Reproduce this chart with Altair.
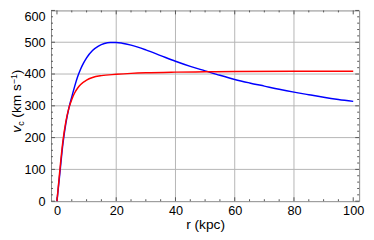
import altair as alt
import pandas as pd

# ---- data ----
r_blue = [0, 1, 2, 3, 4, 5, 6, 7, 8, 9, 10, 12, 14, 16, 18, 20, 22, 25, 30, 35, 40, 45, 50, 55, 60, 65, 70, 75, 80, 85, 90, 95, 100]
v_blue = [0, 90, 180, 245, 292, 328, 362, 392, 416, 435, 451, 474, 488, 496, 499, 499, 497, 491, 476, 458, 440, 424, 410, 396, 383, 372, 362, 352, 343, 335, 327, 320, 314]

r_red = [0, 1, 2, 3, 4, 5, 6, 7, 8, 10, 12, 15, 20, 25, 30, 40, 50, 60, 80, 100]
v_red = [0, 100, 188, 250, 292, 320, 341, 356, 367, 381, 389, 395, 399, 402, 404, 406, 407, 408, 409, 409]

x_major = [0, 20, 40, 60, 80, 100]
x_minor = [5, 10, 15, 25, 30, 35, 45, 50, 55, 65, 70, 75, 85, 90, 95]
y_major = [0, 100, 200, 300, 400, 500, 600]
y_minor = [20, 40, 60, 80, 120, 140, 160, 180, 220, 240, 260, 280, 320, 340, 360, 380,
           420, 440, 460, 480, 520, 540, 560, 580]
x_grid = [20, 40, 60, 80]
y_grid = [100, 200, 300, 400, 500]

W, H = 315, 195
FONT = "Liberation Sans"
TICK = "#555555"
GRID = "#b4b4b4"

xs = alt.Scale(domain=[-2, 102], nice=False, zero=False)
ys = alt.Scale(domain=[0, 600], nice=False, zero=False)

XAX = alt.Axis(values=x_major, grid=False, ticks=False, domain=False,
               labelFont=FONT, labelFontSize=13, labelColor="black",
               labelPadding=4, title="r (kpc)", titleFont=FONT,
               titleFontSize=14, titleFontWeight="normal",
               titleColor="black", titlePadding=0)
YAX = alt.Axis(values=y_major, grid=False, ticks=False, domain=False,
               labelFont=FONT, labelFontSize=13, labelColor="black",
               labelPadding=6, title=None,
               labelBaseline={"condition": {"test": "datum.value == 600", "value": "top"},
                              "value": "middle"})

curves = pd.concat([
    pd.DataFrame({"r": r_blue, "v": v_blue, "s": "blue"}),
    pd.DataFrame({"r": r_red, "v": v_red, "s": "red"}),
])

xgrid = alt.Chart(pd.DataFrame({"r": x_grid})).mark_rule(color=GRID, strokeWidth=1).encode(
    x=alt.X("r:Q", scale=xs, axis=XAX), y=alt.value(0), y2=alt.value(H))
ygrid = alt.Chart(pd.DataFrame({"v": y_grid})).mark_rule(color=GRID, strokeWidth=1).encode(
    y=alt.Y("v:Q", scale=ys, axis=YAX), x=alt.value(0), x2=alt.value(W))


def xticks(vals, ln):
    d = pd.DataFrame({"r": vals})
    b = alt.Chart(d).mark_rule(color=TICK, strokeWidth=1).encode(
        x=alt.X("r:Q", scale=xs, axis=XAX), y=alt.value(H), y2=alt.value(H - ln))
    t = alt.Chart(d).mark_rule(color=TICK, strokeWidth=1).encode(
        x=alt.X("r:Q", scale=xs, axis=XAX), y=alt.value(0), y2=alt.value(ln))
    return [b, t]


def yticks(vals, ln):
    d = pd.DataFrame({"v": vals})
    l = alt.Chart(d).mark_rule(color=TICK, strokeWidth=1).encode(
        y=alt.Y("v:Q", scale=ys, axis=YAX), x=alt.value(0), x2=alt.value(ln))
    r = alt.Chart(d).mark_rule(color=TICK, strokeWidth=1).encode(
        y=alt.Y("v:Q", scale=ys, axis=YAX), x=alt.value(W), x2=alt.value(W - ln))
    return [l, r]


lines = alt.Chart(curves).mark_line(strokeWidth=1.5, interpolate="monotone").encode(
    x=alt.X("r:Q", scale=xs, axis=XAX),
    y=alt.Y("v:Q", scale=ys, axis=YAX),
    color=alt.Color("s:N", scale=alt.Scale(domain=["blue", "red"], range=["#0000ff", "#ff0000"]),
                    legend=None),
    order=alt.Order("s:N"),
)

# y title pieces: v_c (km s^-1)
one = pd.DataFrame({"a": [0]})
BX = -31
pieces = [
    ("v", 14, "italic", 125, BX),
    ("c", 9, "normal", 118, BX + 3),
    ("(km s", 14, "normal", 109.6, BX),
    ("\u22121", 9, "normal", 75.4, BX - 3.5),
    (")", 14, "normal", 65.1, BX),
]
title_layers = []
for txt, fs, st, yy, xx in pieces:
    title_layers.append(
        alt.Chart(one).mark_text(text=txt, font=FONT, fontSize=fs, fontStyle=st, angle=270,
                                 align="left", baseline="alphabetic", color="black").encode(
            x=alt.value(xx), y=alt.value(yy)))

layers = [xgrid, ygrid] + xticks(x_major, 4) + xticks(x_minor, 2) + yticks(y_major, 4) + \
    yticks(y_minor, 2) + [lines] + title_layers

chart = alt.layer(*layers).resolve_scale(x="shared", y="shared").properties(
    width=W, height=H,
    padding={"left": 44, "top": 0, "right": 7, "bottom": 29},
    autosize=alt.AutoSizeParams(type="none"),
).configure_view(stroke="#888888", strokeWidth=1)

chart.save("out.html", embed_options={"renderer": "svg", "actions": False})
